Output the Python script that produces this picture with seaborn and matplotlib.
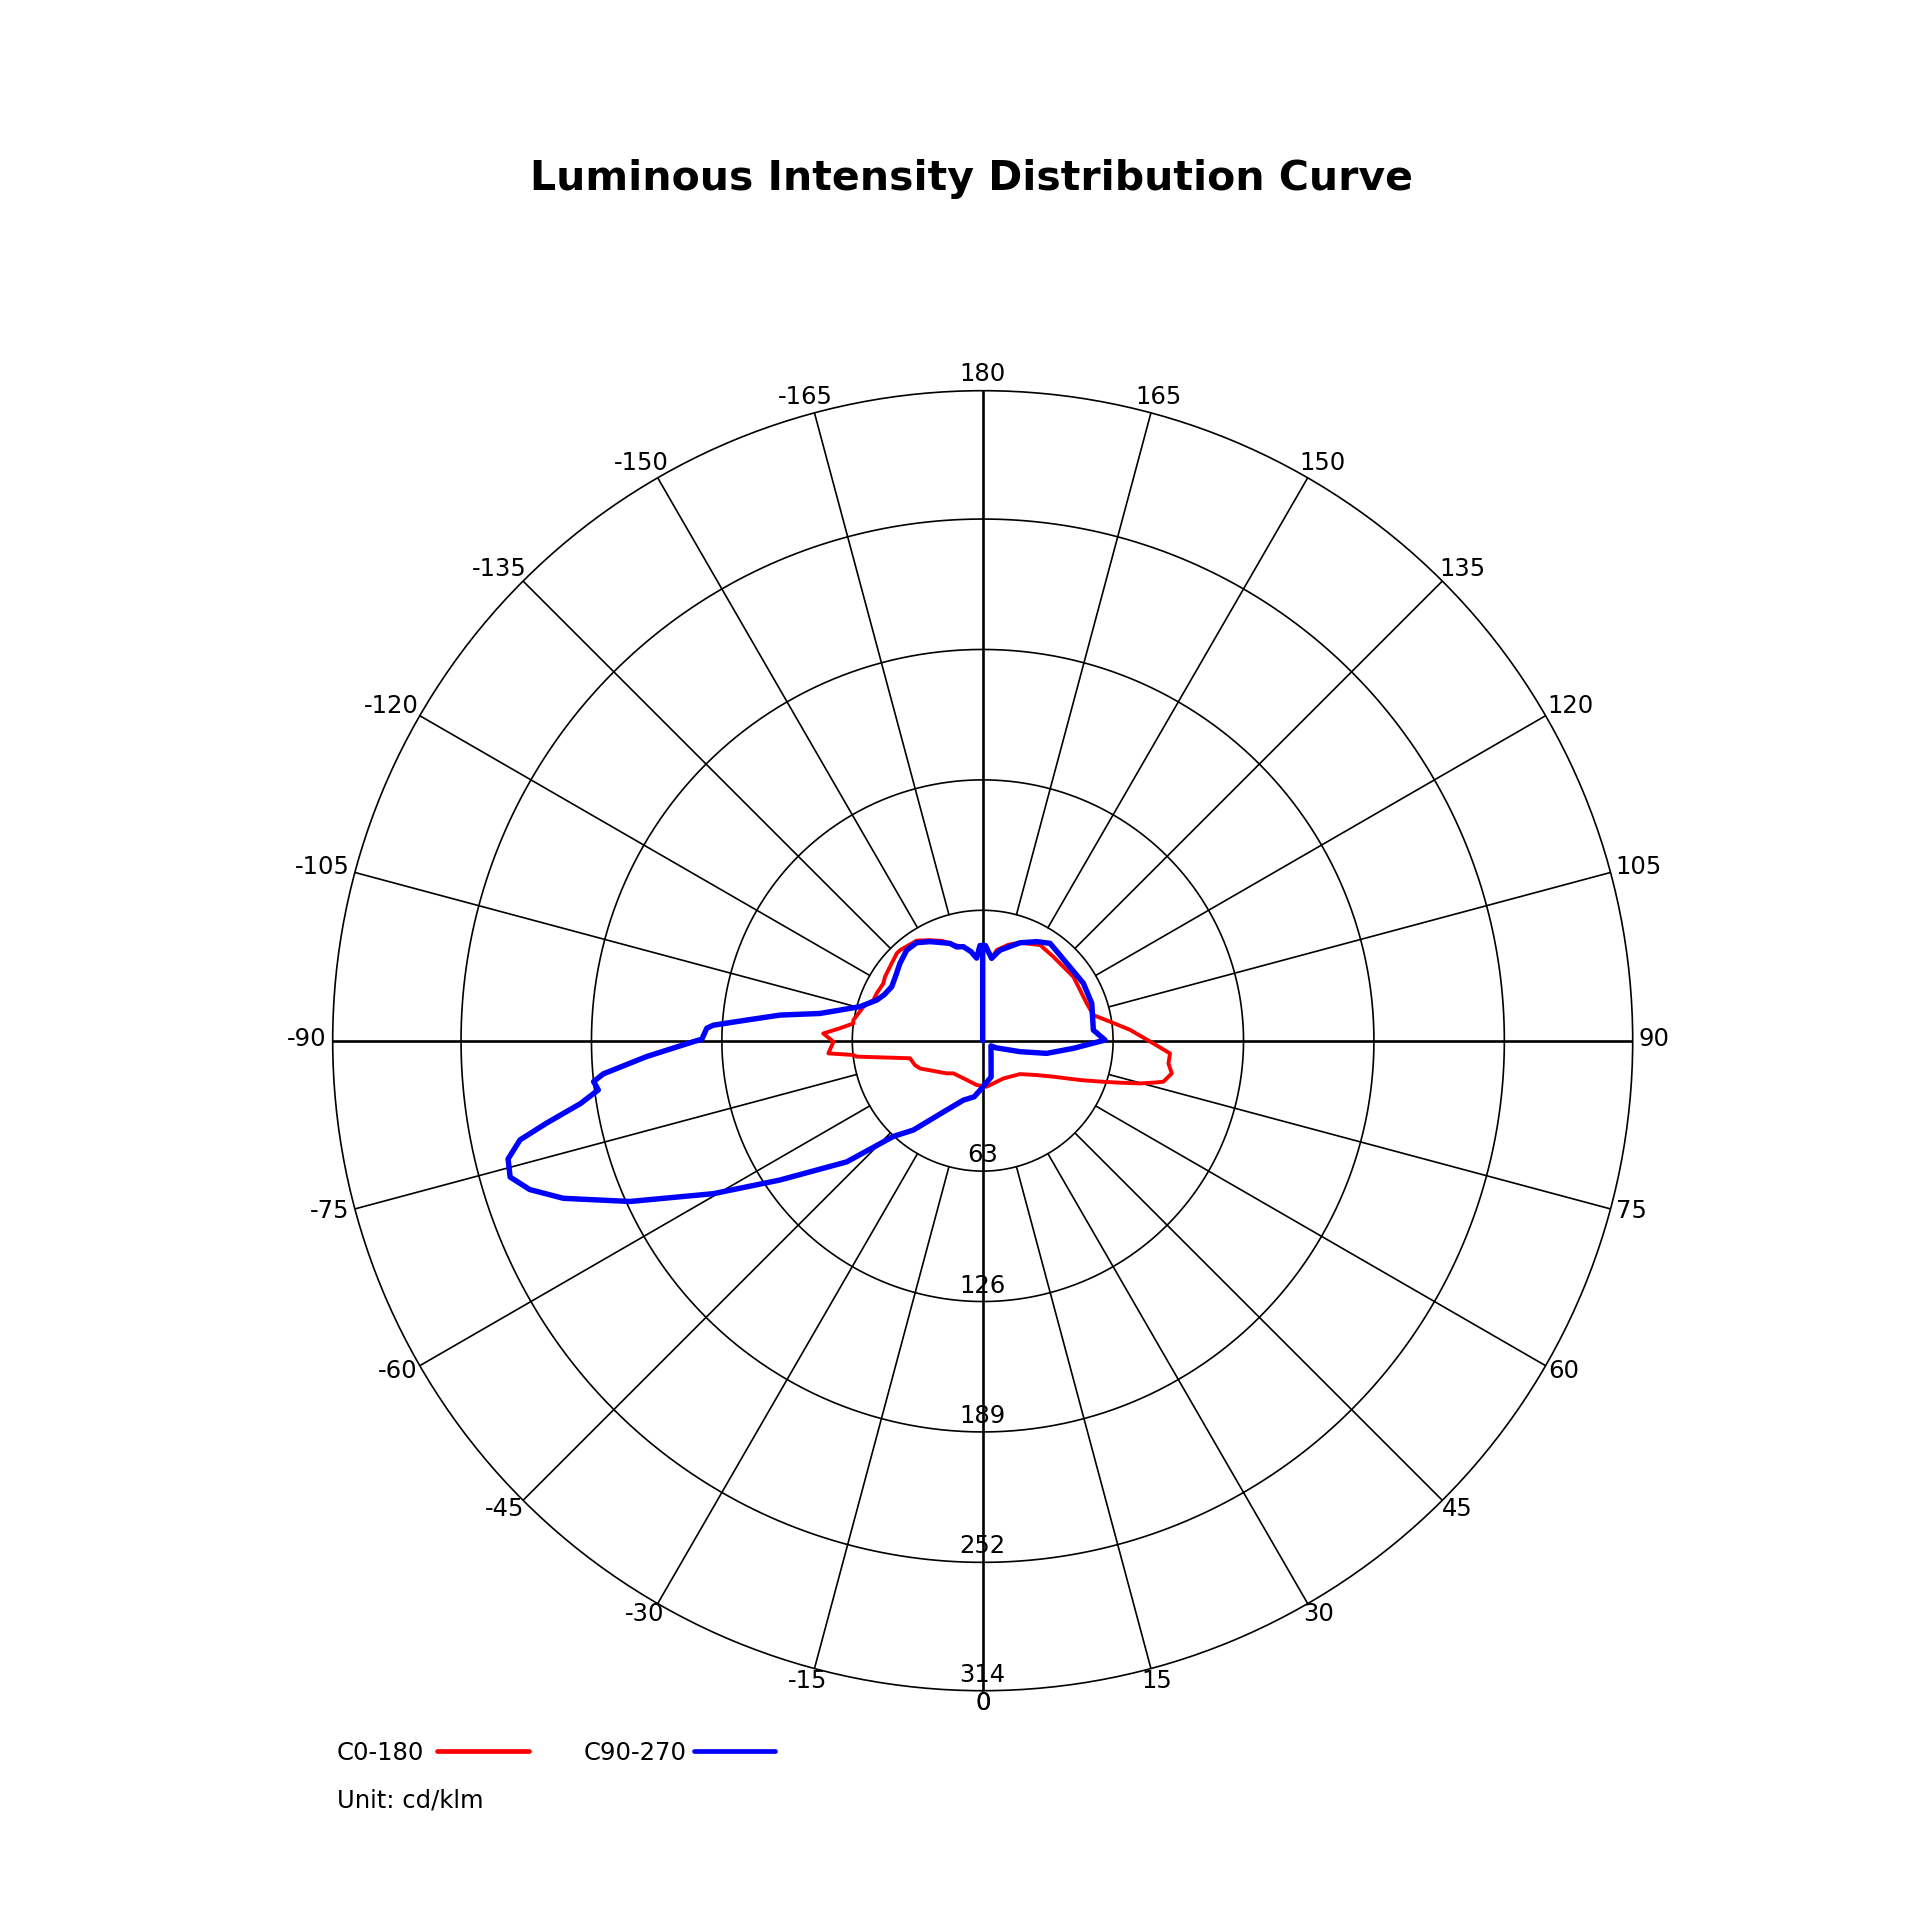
import numpy as np
import pandas as pd
import matplotlib
matplotlib.use("Agg")
import matplotlib.pyplot as plt
from matplotlib.lines import Line2D
import seaborn as sns

# values (gamma angle in degrees, intensity in cd/klm)
c0_angle = [-180, -178, -175.8, -172.5, -168.3, -164, -158, -152, -146.6, -137.7,
            -135.5, -128.6, -123.2, -120, -114, -110.4, -105.9, -99, -97.6, -95,
            -92.6, -89.6, -85.3, -83.7, -82.8, -76.4, -70.2, -66.1, -47.8, -42,
            -27, -7.7, 4.9, 28.8, 48.2, 57.5, 63, 68, 71.2, 73,
            74.8, 76.2, 77.2, 80.2, 83, 86.1, 89.1, 94.2, 98.5, 103,
            109.7, 125.2, 140, 149, 159.2, 165, 171.2, 173.8, 178, 180]
c0_value = [46, 46, 40, 43.4, 46.4, 48, 52, 55, 57.9, 59.2,
            59.2, 57.3, 56.4, 55.4, 56.1, 56.3, 59.9, 63.3, 63, 69.2,
            77.1, 72.1, 74.8, 62.9, 61.4, 36.1, 34.8, 33.1, 23.5, 21.2,
            20.4, 21.6, 22.3, 20.8, 24.2, 30.9, 38.3, 50.7, 61.6, 69.4,
            78.7, 84.9, 89.5, 92.7, 90.4, 90.7, 82.4, 71.4, 62.2, 54.9,
            53.4, 53.6, 53, 53.9, 50.6, 48, 44.3, 40, 46, 46]

c90_angle = [-180, -180, -178.4, -175.8, -172.5, -168.3, -164.5, -161.4, -156, -152,
             -146, -140, -133, -127, -120.7, -115, -111, -105.5, -99.5, -97.2,
             -95, -93.3, -92.6, -90.3, -89.8, -87.3, -85, -84, -82.7, -81.1,
             -79.3, -77.9, -76, -73.9, -71.8, -69.4, -65.5, -60.4, -55.5, -48.3,
             -43, -37.8, -27.4, -18, -8.6, 0, 13, 22, 39, 58,
             62, 66, 73.6, 78.8, 85.2, 90.3, 95.5, 108.9, 119.7, 132.6,
             145.3, 151.4, 159.2, 169, 170.9, 173.8, 178.4, 180]
c90_value = [0, 46, 46, 40, 43.4, 46.4, 47, 49.6, 52, 54.2,
             57.1, 57.1, 54.7, 52.5, 51.1, 52.5, 54.8, 61.5, 79.7, 98.7,
             114.4, 130.3, 133.4, 135.7, 139.8, 162.5, 184, 189, 187.2, 196.8,
             214.4, 228.6, 236.3, 237.6, 230.3, 216.4, 187.3, 149.6, 118.8, 88,
             63.2, 54.6, 37.7, 30.2, 27.4, 22.5, 18, 10.8, 6.4, 4.7,
             7.4, 9.2, 18.8, 31.5, 44, 59.1, 53.7, 55.7, 56, 55.2,
             57.2, 54.5, 50.6, 44.6, 42.8, 40, 46, 46]

ring_values = [63, 126, 189, 252, 314]
theta_ticks = list(range(-165, 181, 15))
R_MAX = 314
FS = 17.5

df_c0 = pd.DataFrame({"theta": np.deg2rad(c0_angle), "I": c0_value})
df_c90 = pd.DataFrame({"theta": np.deg2rad(c90_angle), "I": c90_value})

sns.set_style("white")
plt.rcParams["font.family"] = ["DejaVu Sans"]
plt.rcParams["text.color"] = "black"

fig = plt.figure(figsize=(19.2, 19.2), dpi=100)
ax = fig.add_axes([0.17328, 0.11943, 0.67708, 0.67708], projection="polar")
ax.set_theta_zero_location("S")
ax.set_theta_direction(1)
ax.set_ylim(0, R_MAX)
ax.grid(False)
ax.set_xticks([])
ax.set_yticks([])
ax.spines["polar"].set_color("black")
ax.spines["polar"].set_linewidth(1.2)

# grid: rings, spokes starting at the first ring, full cross lines
full = np.linspace(-np.pi, np.pi, 721)
for r in ring_values[:-1]:
    ax.plot(full, np.full_like(full, r), color="black", lw=1.2, zorder=1)
for ang in theta_ticks:
    t = np.deg2rad(ang)
    if ang % 90 == 0:
        ax.plot([t, t], [0, R_MAX], color="black", lw=1.9, zorder=1)
    else:
        ax.plot([t, t], [ring_values[0], R_MAX], color="black", lw=1.2, zorder=1)

sns.lineplot(df_c0, x="theta", y="I", sort=False, estimator=None, color="#ff0000",
             lw=2.8, ax=ax, legend=False, zorder=3)
sns.lineplot(df_c90, x="theta", y="I", sort=False, estimator=None, color="#0000ff",
             lw=3.9, ax=ax, legend=False, zorder=4)
ax.set_xlabel("")
ax.set_ylabel("")
ax.set_ylim(0, R_MAX)

# radial labels along the 0 direction
for v in ring_values:
    ax.annotate(str(v), xy=(0, v), xytext=(0, 16), textcoords="offset pixels",
                ha="center", va="center", fontsize=FS, color="black",
                annotation_clip=False, zorder=5)

# angle labels around the rim
fig.canvas.draw()
renderer = fig.canvas.get_renderer()
gap = 6
h_eff = 17.5
for ang in theta_ticks + [0]:
    t = np.deg2rad(ang)
    lab = ax.annotate(str(ang), xy=(t, R_MAX), xytext=(0, 0), textcoords="offset pixels",
                      ha="center", va="center", fontsize=FS, color="black",
                      annotation_clip=False)
    w = lab.get_window_extent(renderer).width
    s, c = np.sin(t), np.cos(t)
    lab.xyann = (s * (gap + w / 2), -c * (gap + h_eff / 2) + 2)

fig.text(971 / 1920, 1 - 179 / 1920, "Luminous Intensity Distribution Curve",
         ha="center", va="center", fontsize=29.5, fontweight="bold", color="black")

# legend: label first, then the line sample
fig.legend([Line2D([], [], color="#ff0000", lw=3.4)], ["C0-180"], markerfirst=False,
           frameon=False, loc="center left", bbox_to_anchor=(337 / 1920, 1 - 1753 / 1920),
           borderaxespad=0, borderpad=0, fontsize=FS, handlelength=3.8, handletextpad=0.5)
fig.legend([Line2D([], [], color="#0000ff", lw=3.4)], ["C90-270"], markerfirst=False,
           frameon=False, loc="center left", bbox_to_anchor=(584 / 1920, 1 - 1753 / 1920),
           borderaxespad=0, borderpad=0, fontsize=FS, handlelength=3.3, handletextpad=0.3)
fig.text(337 / 1920, 1 - 1800 / 1920, "Unit: cd/klm", ha="left", va="center",
         fontsize=FS, color="black")

fig.savefig("out.png", dpi=100)
